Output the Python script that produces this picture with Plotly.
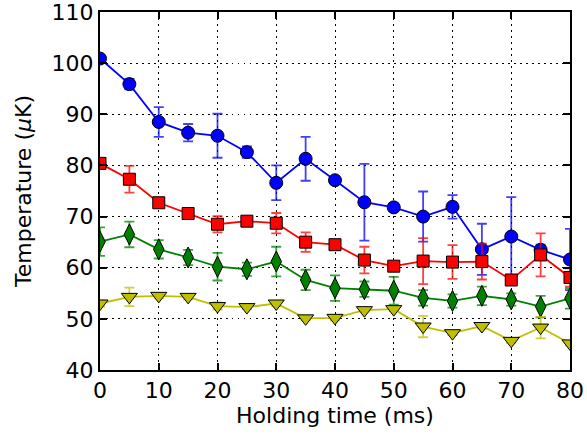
import plotly.graph_objects as go

x = [0, 5, 10, 15, 20, 25, 30, 35, 40, 45, 50, 55, 60, 65, 70, 75, 80]

blue_y = [100.9, 95.9, 88.5, 86.4, 85.8, 82.6, 76.6, 81.3, 77.1, 72.8, 71.8, 70.0, 71.9, 63.6, 66.1, 63.5, 61.6]
blue_e = [0.5, 1.0, 2.9, 1.7, 4.3, 1.1, 3.4, 4.3, 0.6, 7.5, 0.8, 4.9, 2.3, 5.0, 7.7, 1.0, 6.0]

red_y = [80.4, 77.3, 72.7, 70.6, 68.5, 69.1, 68.7, 65.0, 64.5, 61.5, 60.3, 61.3, 61.1, 61.2, 57.6, 62.5, 58.1]
red_e = [0.5, 2.6, 0.5, 0.4, 1.6, 0.3, 2.0, 1.9, 0.5, 2.6, 0.5, 4.5, 3.3, 3.5, 0.4, 4.2, 1.8]

green_y = [65.1, 66.5, 63.6, 62.0, 60.2, 59.7, 61.2, 57.6, 56.0, 55.8, 55.5, 54.1, 53.5, 54.5, 53.8, 52.4, 54.0]
green_e = [2.8, 2.5, 1.8, 1.5, 2.7, 1.3, 2.9, 2.0, 2.5, 1.5, 2.7, 1.5, 1.3, 1.8, 1.2, 2.1, 2.0]

yellow_y = [53.0, 54.3, 54.5, 54.3, 52.5, 52.3, 53.0, 50.1, 50.2, 51.7, 51.9, 48.5, 47.2, 48.6, 45.7, 48.3, 45.2]
yellow_e = [0.6, 1.8, 0.5, 0.5, 0.7, 0.4, 0.5, 0.4, 0.5, 0.3, 0.4, 2.1, 0.4, 0.5, 0.4, 2.1, 0.4]

x_ticks = [0, 10, 20, 30, 40, 50, 60, 70, 80]
y_ticks = [40, 50, 60, 70, 80, 90, 100, 110]

series = [
    (blue_y, blue_e, "#0000ff", "rgba(0,0,255,0.75)", "circle", 13),
    (red_y, red_e, "#ff0000", "rgba(255,0,0,0.75)", "square", 12),
    (green_y, green_e, "#008000", "rgba(0,128,0,0.75)", "diamond-tall", 15),
    (yellow_y, yellow_e, "#bfbf00", "rgba(191,191,0,0.75)", "triangle-down", 14),
]

fig = go.Figure()
for yv, ev, col, ecol, sym, sz in series:
    fig.add_trace(go.Scatter(
        x=x, y=yv, mode="lines+markers",
        line=dict(color=col, width=1.8),
        marker=dict(symbol=sym, size=sz, color=col, line=dict(color="black", width=1)),
        error_y=dict(type="data", array=ev, visible=True, color=ecol, thickness=1.8, width=5),
        showlegend=False,
    ))

axis_common = dict(
    showline=True, linecolor="black", linewidth=2, mirror="allticks",
    ticks="inside", ticklen=7, tickwidth=1.5, tickcolor="black",
    showgrid=True, gridcolor="black", gridwidth=1, griddash="1.5px,4.5px",
    zeroline=False, ticklabeloverflow="allow",
    tickfont=dict(family="DejaVu Sans", size=22, color="black"),
)

fig.update_xaxes(range=[0, 80], tickvals=x_ticks, ticktext=[str(v) for v in x_ticks],
                 title=dict(text="Holding time (ms)", font=dict(family="DejaVu Sans", size=22, color="black"), standoff=5),
                 **axis_common)
fig.update_yaxes(range=[40, 110], tickvals=y_ticks, ticktext=[str(v) for v in y_ticks],
                 title=dict(text="Temperature (<i>μ</i>K)", font=dict(family="DejaVu Sans", size=22, color="black"), standoff=14),
                 **axis_common)

fig.update_layout(
    width=587, height=434,
    margin=dict(l=100, r=17, t=12, b=64, autoexpand=False),
    paper_bgcolor="white", plot_bgcolor="white",
    font=dict(family="DejaVu Sans", color="black"),
)

fig.write_html("out.html", config={"displayModeBar": False},
               post_script="document.body.style.margin='0';document.body.style.overflow='hidden';")
